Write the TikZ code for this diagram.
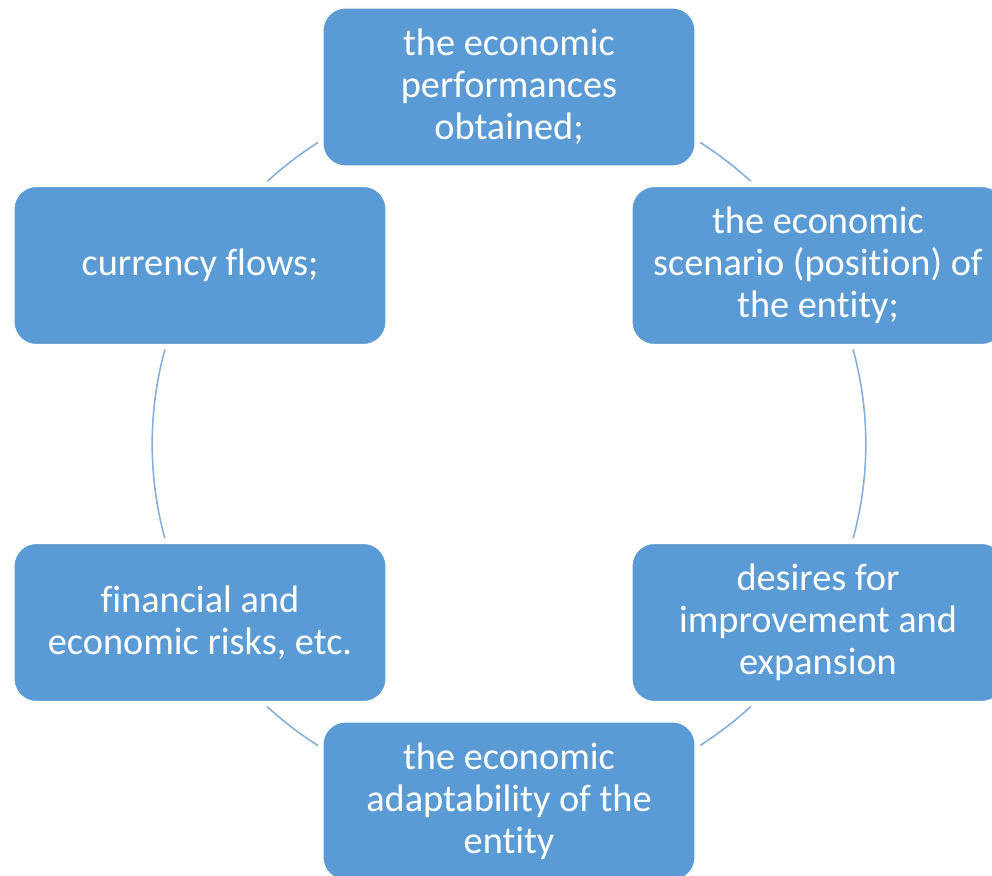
\documentclass[tikz,border=0pt]{standalone}
\usepackage{fontspec}
\setmainfont{Carlito}[RawFeature={-liga;-dlig;-clig}]
\usetikzlibrary{backgrounds}
\definecolor{boxblue}{RGB}{91,155,213}
\definecolor{ringblue}{RGB}{132,174,222}

\begin{document}
\begin{tikzpicture}[
        box/.style = {rectangle, rounded corners = 0.45cm, fill = boxblue, draw = white, line width = 0.6pt,
            preaction = {draw = white, line width = 0.2cm},
            minimum width = 7.44cm, minimum height = 3.16cm, inner sep = 0pt,
            text = white, align = center, font = \fontsize{21.8}{23.9}\selectfont},
        ring/.style = {ringblue, line width = 0.9pt}
    ]
            \useasboundingbox (0, 0) rectangle (19.84, 17.5);
            \clip (0, 0) rectangle (19.84, 17.5);
            \draw (10.18, 15.76)node(top)[box]{the economic\\performances\\obtained;};
            \draw (16.36, 12.19)node(righttop)[box]{the economic\\scenario (position) of\\the entity;};
            \draw (16.36, 5.05)node(rightbot)[box]{desires for\\improvement and\\expansion};
            \draw (10.18, 1.48)node(bottom)[box]{the economic\\adaptability of the\\entity};
            \draw (4.00, 5.05)node(leftbot)[box]{financial and\\economic risks, etc.};
            \draw (4.00, 12.19)node(lefttop)[box]{currency flows;};
            \begin{scope}[on background layer]
            \draw (top.center) arc[start angle = 90, end angle = 30, radius = 7.14][ring];
            \draw (righttop.center) arc[start angle = 30, end angle = -30, radius = 7.14][ring];
            \draw (rightbot.center) arc[start angle = -30, end angle = -90, radius = 7.14][ring];
            \draw (bottom.center) arc[start angle = -90, end angle = -150, radius = 7.14][ring];
            \draw (leftbot.center) arc[start angle = -150, end angle = -210, radius = 7.14][ring];
            \draw (lefttop.center) arc[start angle = 150, end angle = 90, radius = 7.14][ring];
            \end{scope}
        \end{tikzpicture}
\end{document}
